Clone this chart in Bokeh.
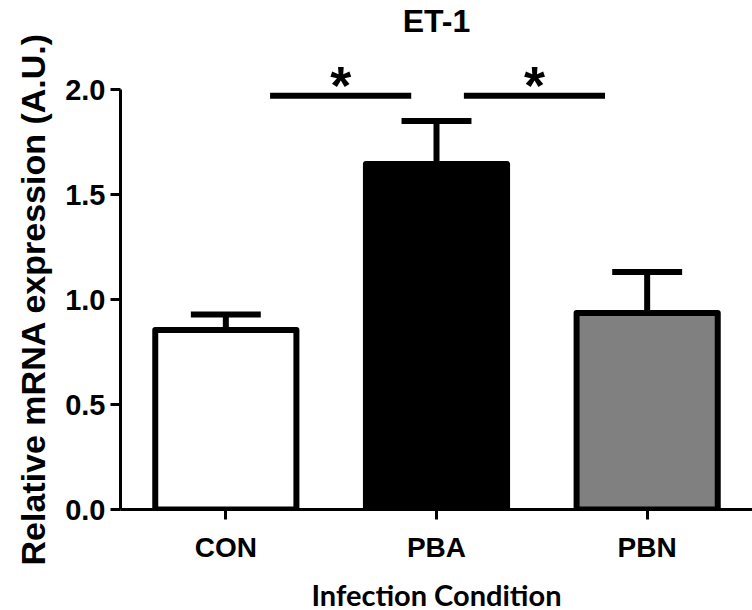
from bokeh.plotting import figure
from bokeh.models import Range1d, FixedTicker, NumeralTickFormatter, Title, ColumnDataSource
from bokeh.core.properties import value
from bokeh.embed import file_html
from bokeh.resources import INLINE

# ---- data ----
categories = ["CON", "PBA", "PBN"]
means = [0.855, 1.645, 0.936]
errors = [0.074, 0.205, 0.195]
bar_colors = ["#ffffff", "#000000", "#808080"]

sig_x0 = [0.21, 1.13]
sig_x1 = [0.88, 1.80]
sig_y = [1.97, 1.97]
sig_text = ["*", "*"]

y_ticks = [0.0, 0.5, 1.0, 1.5, 2.0]
title_text = "ET-1"

# ---- figure ----
ARIAL = "Liberation Sans"
xs = list(range(len(categories)))
FRAME_H = 509
PX_PER_UNIT = 210
X0, X1, Y1 = -0.5, 2.5, FRAME_H / PX_PER_UNIT
p = figure(frame_width=632, frame_height=FRAME_H,
           min_border_left=120, min_border_right=0,
           min_border_top=0, min_border_bottom=101,
           x_range=Range1d(X0, X1), y_range=Range1d(0, Y1),
           output_backend="svg", toolbar_location=None)
p.xgrid.visible = False
p.ygrid.visible = False
p.outline_line_color = None
p.background_fill_color = "white"
p.border_fill_color = "white"

# title, floated a fixed number of pixels below the top of the canvas
p.text(x=[(X0 + X1) / 2], y=[Y1], text=[title_text], y_offset=20,
       text_align="center", text_baseline="alphabetic",
       text_font=value(ARIAL), text_font_size="32px", text_font_style="bold",
       text_color="black")

src = ColumnDataSource(dict(x=xs, top=means, err_top=[m + e for m, e in zip(means, errors)],
                            color=bar_colors,
                            cap0=[x - 0.166 for x in xs], cap1=[x + 0.166 for x in xs]))

# error bars (upper only)
p.segment(x0="x", y0="top", x1="x", y1="err_top", source=src, line_color="black", line_width=6)
p.segment(x0="cap0", y0="err_top", x1="cap1", y1="err_top", source=src, line_color="black", line_width=6)
# bars
p.vbar(x="x", top="top", bottom=0, width=0.67, source=src, fill_color="color",
       line_color="black", line_width=6, line_join="round")

# significance
sig = ColumnDataSource(dict(x0=sig_x0, x1=sig_x1, y=sig_y, t=sig_text,
                            xm=[(a + b) / 2 for a, b in zip(sig_x0, sig_x1)]))
p.segment(x0="x0", y0="y", x1="x1", y1="y", source=sig, line_color="black", line_width=6)
p.text(x="xm", y="y", text="t", source=sig, text_align="center", text_baseline="alphabetic",
       text_font=value(ARIAL), text_font_size="54px", text_font_style="bold", y_offset=-11)

# axes
for ax in (p.xaxis[0], p.yaxis[0]):
    ax.axis_line_width = 3
    ax.major_tick_line_width = 3
    ax.major_tick_out = 10
    ax.major_tick_in = 0
    ax.minor_tick_line_color = None
    ax.major_label_text_font = ARIAL
    ax.major_label_text_font_style = "bold"
    ax.major_label_text_color = "black"
    ax.axis_line_color = "black"
    ax.major_tick_line_color = "black"

p.xaxis.ticker = FixedTicker(ticks=xs)
p.xaxis.major_label_overrides = {i: c for i, c in enumerate(categories)}
p.xaxis.major_label_text_font_size = "28px"
p.xaxis.major_label_standoff = 12
p.xaxis.axis_label = "Infection Condition"
p.xaxis.axis_label_text_font = "Lato"
p.xaxis.axis_label_text_font_style = "bold"
p.xaxis.axis_label_text_font_size = "29px"
p.xaxis.axis_label_text_color = "black"
p.xaxis.axis_label_standoff = 11

p.yaxis.ticker = FixedTicker(ticks=y_ticks)
p.yaxis.formatter = NumeralTickFormatter(format="0.0")
p.yaxis.bounds = (0, 2)
p.yaxis.major_label_text_font_size = "29px"
p.yaxis.major_label_standoff = 5

ylab = Title(text="Relative mRNA expression (A.U.)", align="left", offset=-56,
             text_font=ARIAL, text_font_style="bold", text_font_size="34px",
             text_color="black", standoff=21)
p.add_layout(ylab, "left")

open("out.html", "w").write(file_html(p, INLINE))
